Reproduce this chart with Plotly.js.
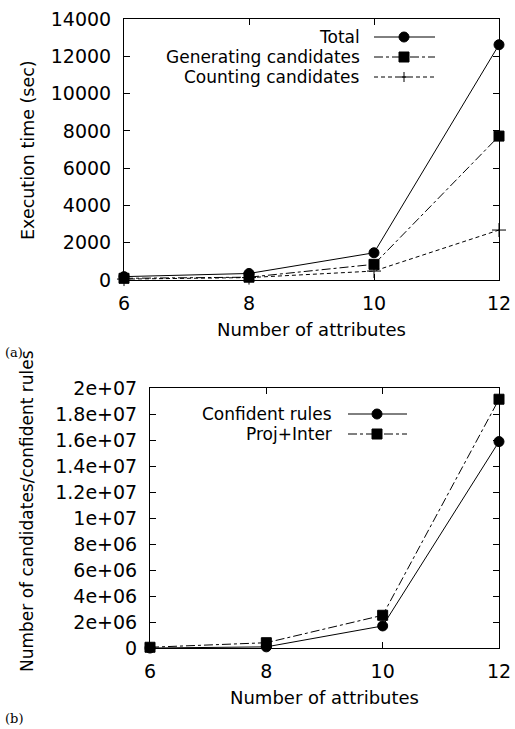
<!DOCTYPE html>
<html>
<head>
<meta charset="utf-8">
<script src="https://cdn.plot.ly/plotly-3.0.1.min.js"></script>
<style>html,body{margin:0;padding:0;background:#fff;}#chart{width:515px;height:729px;}</style>
</head>
<body>
<div id="chart"></div>
<script>
// ---- data ----
const attributes = [6, 8, 10, 12];
const totalTime = [180, 350, 1460, 12620];
const generatingTime = [90, 150, 840, 7720];
const countingTime = [50, 130, 480, 2680];
const confidentRules = [20000, 110000, 1720000, 15900000];
const projInter = [80000, 430000, 2540000, 19160000];

const xTicks = [6, 8, 10, 12];
const yTicksA = [0, 2000, 4000, 6000, 8000, 10000, 12000, 14000];
const yTickTextA = ['0', '2000', '4000', '6000', '8000', '10000', '12000', '14000'];
const yTicksB = [0, 2e6, 4e6, 6e6, 8e6, 1e7, 1.2e7, 1.4e7, 1.6e7, 1.8e7, 2e7];
const yTickTextB = ['0', '2e+06', '4e+06', '6e+06', '8e+06', '1e+07', '1.2e+07', '1.4e+07', '1.6e+07', '1.8e+07', '2e+07'];

const legendA = ['Total', 'Generating candidates', 'Counting candidates'];
const legendB = ['Confident rules', 'Proj+Inter'];

// ---- style ----
const W = 515, H = 729;
const FONT = 'DejaVu Sans, sans-serif';
const px = v => v / W;
const py = v => 1 - v / H;
const lineCol = '#000';

function tr(x, y, xa, ya, dash, symbol, size) {
  return {
    x: x, y: y, xaxis: xa, yaxis: ya, type: 'scatter', mode: 'lines+markers',
    line: {color: lineCol, width: 1, dash: dash},
    marker: {symbol: symbol, size: size, color: lineCol, line: {color: lineCol, width: 1}},
    showlegend: false, cliponaxis: false
  };
}

const data = [
  tr(attributes, totalTime, 'x', 'y', 'solid', 'circle', 10),
  tr(attributes, generatingTime, 'x', 'y', 'dashdot', 'square', 10),
  tr(attributes, countingTime, 'x', 'y', '4px,3px', 'cross-thin', 10),
  tr(attributes, confidentRules, 'x2', 'y2', 'solid', 'circle', 10),
  tr(attributes, projInter, 'x2', 'y2', 'dashdot', 'square', 10)
];

function xax(domain, anchor) {
  return {
    domain: domain, anchor: anchor, range: [6, 12], tickvals: xTicks,
    ticks: 'inside', ticklen: 6, tickcolor: '#000', showline: true, mirror: 'ticks',
    linecolor: '#000', linewidth: 1, showgrid: false, zeroline: false,
    tickfont: {family: FONT, size: 19, color: '#000'}, ticklabelstandoff: 6,
    title: {text: 'Number of attributes', font: {family: FONT, size: 18, color: '#000'}, standoff: 10}
  };
}
function yax(domain, anchor, ticks, text) {
  return {
    domain: domain, anchor: anchor, range: [0, ticks[ticks.length - 1]], tickvals: ticks, ticktext: text,
    ticks: 'inside', ticklen: 6, tickcolor: '#000', showline: true, mirror: 'ticks',
    linecolor: '#000', linewidth: 1, showgrid: false, zeroline: false,
    tickfont: {family: FONT, size: 19, color: '#000'}, ticklabelstandoff: 8
  };
}

const shapes = [];
const annotations = [];
function legendRow(label, yPix, textRight, lx0, lx1, mx, dash, sym) {
  annotations.push({
    xref: 'paper', yref: 'paper', x: px(textRight), y: py(yPix), xanchor: 'right', yanchor: 'middle',
    text: label, showarrow: false, borderpad: 0, font: {family: FONT, size: 17, color: '#000'}
  });
  shapes.push({type: 'line', xref: 'paper', yref: 'paper', x0: px(lx0), x1: px(lx1), y0: py(yPix), y1: py(yPix),
    line: {color: lineCol, width: 1, dash: dash}});
  const base = {xref: 'paper', yref: 'paper', xsizemode: 'pixel', ysizemode: 'pixel',
    xanchor: px(mx), yanchor: py(yPix)};
  if (sym === 'circle') {
    shapes.push(Object.assign({type: 'circle', x0: -5, x1: 5, y0: -5, y1: 5,
      fillcolor: lineCol, line: {color: lineCol, width: 1}}, base));
  } else if (sym === 'square') {
    shapes.push(Object.assign({type: 'rect', x0: -5, x1: 5, y0: -5, y1: 5,
      fillcolor: lineCol, line: {color: lineCol, width: 1}}, base));
  } else {
    shapes.push(Object.assign({type: 'line', x0: -5, x1: 5, y0: 0, y1: 0, line: {color: lineCol, width: 1}}, base));
    shapes.push(Object.assign({type: 'line', x0: 0, x1: 0, y0: -5, y1: 5, line: {color: lineCol, width: 1}}, base));
  }
}
const dashesA = ['solid', 'dashdot', '4px,3px'];
const symsA = ['circle', 'square', 'cross'];
const rowsA = [37, 57, 77];
legendA.forEach((l, i) => legendRow(l, rowsA[i], 361, 374, 435, 404, dashesA[i], symsA[i]));
const dashesB = ['solid', 'dashdot'];
const symsB = ['circle', 'square'];
const rowsB = [414, 434];
legendB.forEach((l, i) => legendRow(l, rowsB[i], 333, 348, 407, 377, dashesB[i], symsB[i]));

// y axis titles
annotations.push({xref: 'paper', yref: 'paper', x: px(28), y: py(150), xanchor: 'center', yanchor: 'middle',
  textangle: -90, text: 'Execution time (sec)', showarrow: false, font: {family: FONT, size: 17.5, color: '#000'}});
annotations.push({xref: 'paper', yref: 'paper', x: px(27), y: py(511), xanchor: 'center', yanchor: 'middle',
  textangle: -90, text: 'Number of candidates/confident rules', showarrow: false, font: {family: FONT, size: 17, color: '#000'}});

annotations.push({xref: 'paper', yref: 'paper', x: px(3), y: py(352), xanchor: 'left', yanchor: 'middle',
  text: '(a)', showarrow: false, font: {family: 'DejaVu Serif, serif', size: 13, color: '#000'}});
annotations.push({xref: 'paper', yref: 'paper', x: px(3), y: py(718), xanchor: 'left', yanchor: 'middle',
  text: '(b)', showarrow: false, font: {family: 'DejaVu Serif, serif', size: 13, color: '#000'}});

const layout = {
  width: W, height: H, margin: {l: 0, r: 0, t: 0, b: 0},
  paper_bgcolor: '#fff', plot_bgcolor: '#fff', showlegend: false,
  xaxis: xax([px(124), px(499)], 'y'),
  yaxis: yax([py(280), py(19)], 'x', yTicksA, yTickTextA),
  xaxis2: xax([px(150), px(499)], 'y2'),
  yaxis2: yax([py(648.3), py(388.3)], 'x2', yTicksB, yTickTextB),
  shapes: shapes, annotations: annotations
};

Plotly.newPlot('chart', data, layout, {displayModeBar: false, staticPlot: true});
</script>
</body>
</html>
